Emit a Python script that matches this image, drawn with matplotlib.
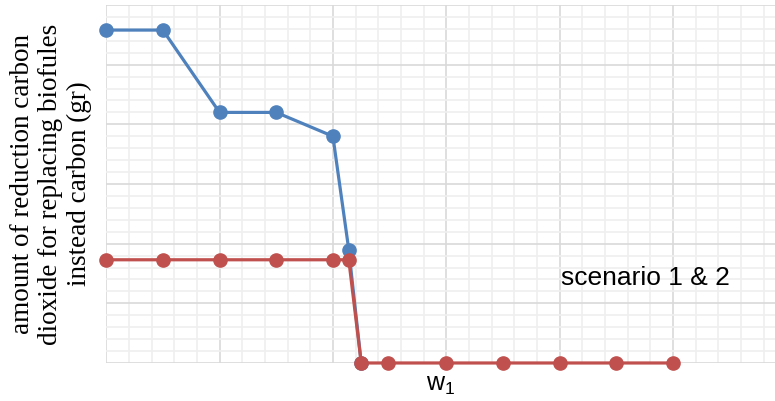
import numpy as np
import matplotlib
matplotlib.use('Agg')
from matplotlib import pyplot as plt
from matplotlib.ticker import MultipleLocator


# =============================================================================
# Data (arbitrary units)
# =============================================================================
blue_x = [0, 0.5, 1, 1.5, 2, 2.14, 2.25]
blue_y = [5.58, 5.58, 4.2, 4.2, 3.8, 1.9, 0]
red_x = [0, 0.5, 1, 1.5, 2, 2.14, 2.25, 2.49, 3, 3.5, 4, 4.5, 5]
red_y = [1.73, 1.73, 1.73, 1.73, 1.73, 1.73, 0, 0, 0, 0, 0, 0, 0]
x_label = 'w$_1$'
y_label = 'amount of reduction carbon\ndioxide for replacing biofules\ninstead carbon (gr)'
note = 'scenario 1 & 2'


# =============================================================================
# Plot parameters
# =============================================================================
matplotlib.rcParams['font.family'] = 'Liberation Sans'
matplotlib.rcParams['mathtext.fontset'] = 'custom'
matplotlib.rcParams['mathtext.rm'] = 'Liberation Sans'
matplotlib.rcParams['mathtext.it'] = 'Liberation Sans'
blue = '#4F81BD'
red = '#C0504D'


# =============================================================================
# Plot
# =============================================================================
fig = plt.figure(figsize=(7.75, 4.01), dpi=100)
ax = fig.add_axes([0.137, 0.0948, 0.863, 0.8927])

ax.plot(blue_x, blue_y, color=blue, linewidth=2.3, marker='o', markersize=9.5,
    clip_on=False, zorder=3)
ax.plot(red_x, red_y, color=red, linewidth=2.3, marker='o', markersize=9.5,
    clip_on=False, zorder=4)

ax.set_xlim(0, 5.9)
ax.set_ylim(0, 6)
ax.xaxis.set_major_locator(MultipleLocator(1))
ax.xaxis.set_minor_locator(MultipleLocator(0.2))
ax.yaxis.set_major_locator(MultipleLocator(1))
ax.yaxis.set_minor_locator(MultipleLocator(0.2))
ax.grid(which='major', color='#d9d9d9', linewidth=1.2)
ax.grid(which='minor', color='#efefef', linewidth=1.2)
ax.set_axisbelow(True)
ax.tick_params(which='both', length=0, labelbottom=False, labelleft=False)
for side in ['top', 'right', 'left', 'bottom']:
    ax.spines[side].set_visible(False)

ax.set_xlabel(x_label, fontsize=18, labelpad=7)
ax.set_ylabel(y_label, fontsize=19.5, family='Liberation Serif',
    linespacing=1.2, labelpad=10)
ax.text(4.76, 1.43, note, fontsize=19, ha='center', va='center')

fig.savefig('out.png', dpi=100)
plt.close()
